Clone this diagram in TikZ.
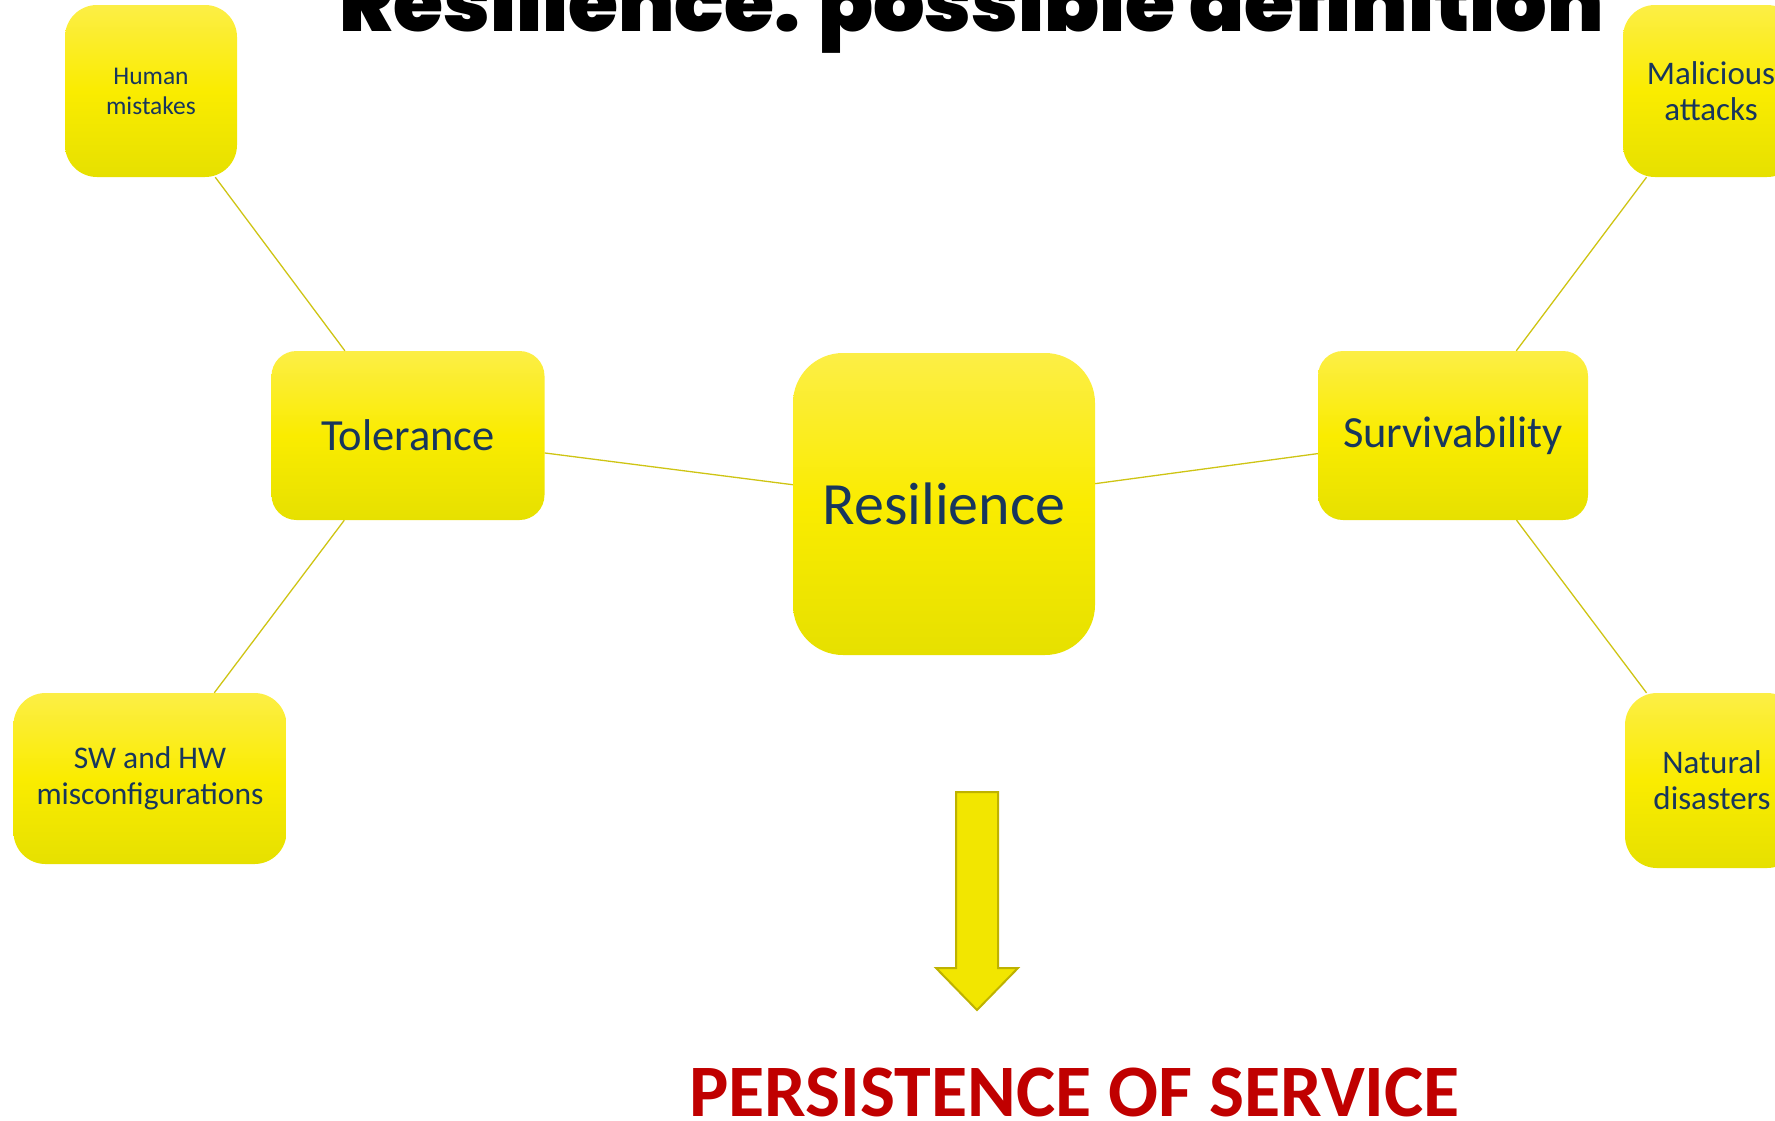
\documentclass[tikz,border=0pt]{standalone}
\usepackage{fontspec}
\setmainfont{Carlito}
\IfFontExistsTF{Poppins Black}
  {\newfontfamily\headfont{Poppins Black}\def\headweight{}}
  {\newfontfamily\headfont{Poppins}\def\headweight{\bfseries}}

\definecolor{boxtext}{RGB}{23,54,93}
\definecolor{boxtop}{RGB}{252,238,70}
\definecolor{boxmid}{RGB}{250,236,0}
\definecolor{boxbot}{RGB}{230,224,0}
\definecolor{linkline}{RGB}{206,196,20}
\definecolor{arrowfill}{RGB}{242,230,0}
\definecolor{arrowedge}{RGB}{190,178,0}
\definecolor{persist}{RGB}{192,0,0}

\tikzset{
  mapbox/.style={rectangle, rounded corners=#1, draw=none,
    top color=boxtop, bottom color=boxbot, middle color=boxmid,
    text=boxtext, align=center, inner sep=0pt},
  link/.style={draw=linkline, line width=1.3pt},
}

\begin{document}
\begin{tikzpicture}[x=1pt,y=-1pt]
\useasboundingbox (0,0) rectangle (1775,1120);

% heading, partly above the top edge
\node[anchor=base, inner sep=0pt, text=black,
      font=\headfont\headweight\fontsize{81}{81}\selectfont]
  (title) at (971.5,31) {Resilience: possible definition};

% central concept
\node[mapbox=50pt, minimum width=302pt, minimum height=302pt,
      font=\fontsize{60}{70}\selectfont] (res) at (944,504) {Resilience};

% two branches
\node[mapbox=25pt, minimum width=273pt, minimum height=169pt,
      font=\fontsize{44.5}{53}\selectfont] (tol) at (408,435.5) {Tolerance};
\node[mapbox=25pt, minimum width=270pt, minimum height=169pt,
      font=\fontsize{44.5}{53}\selectfont] (sur) at (1453,435.5) {Survivability};

% causes
\node[mapbox=32pt, minimum width=172pt, minimum height=172pt,
      font=\fontsize{25.5}{30}\selectfont] (hum) at (151,91) {Human\\mistakes};
\node[mapbox=32pt, minimum width=273pt, minimum height=171pt,
      font=\fontsize{31.5}{36}\selectfont] (sw) at (150,778.5) {SW and HW\\misconfigurations};
\node[mapbox=32pt, minimum width=176pt, minimum height=172pt,
      font=\fontsize{33}{36}\selectfont] (mal) at (1711,91) {Malicious\\attacks};
\node[mapbox=32pt, minimum width=174pt, minimum height=175pt,
      font=\fontsize{33}{36}\selectfont] (nat) at (1712,780.5) {Natural\\disasters};

% connectors
\draw[link] (hum) -- (tol);
\draw[link] (sw) -- (tol);
\draw[link] (tol) -- (res);
\draw[link] (res) -- (sur);
\draw[link] (sur) -- (mal);
\draw[link] (sur) -- (nat);

% block arrow pointing to the outcome
\draw[fill=arrowfill, draw=arrowedge, line width=2pt, line join=miter]
  (956,792) -- (998,792) -- (998,968) -- (1018,968) -- (977,1010)
  -- (936,968) -- (956,968) -- cycle;

\node[anchor=base, inner sep=0pt, text=persist,
      font=\bfseries\fontsize{74}{80}\selectfont]
  (outcome) at (1074.5,1116) {PERSISTENCE OF SERVICE};
\end{tikzpicture}
\end{document}
